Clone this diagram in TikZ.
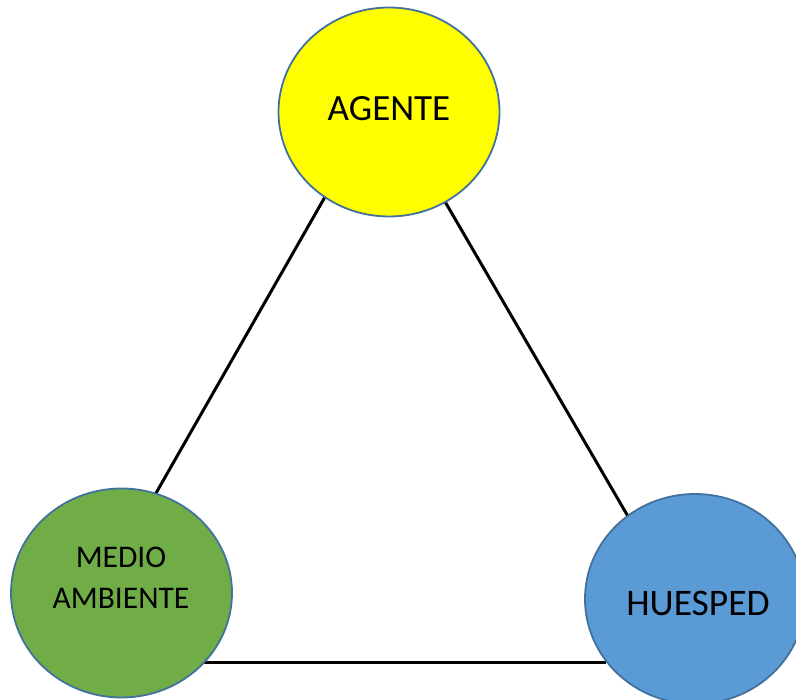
\documentclass[tikz,border=0pt]{standalone}
\usepackage{fontspec}
\setmainfont{Carlito}
\usetikzlibrary{shapes.geometric,backgrounds}
\definecolor{rimblue}{HTML}{41719C}
\definecolor{agyellow}{HTML}{FFFF00}
\definecolor{mdgreen}{HTML}{70AD47}
\definecolor{hublue}{HTML}{5B9BD5}
\tikzset{
  blob/.style={ellipse, draw=rimblue, line width=1.8pt, inner sep=0pt, outer sep=0pt,
    minimum width=221pt, minimum height=209pt},
  edge/.style={draw=black, line width=3pt},
  lbl/.style={inner sep=0pt, align=center, text=black}
}
\begin{document}
\begin{tikzpicture}[x=1pt,y=-1pt]
\useasboundingbox (0,0) rectangle (796,700);
\node[blob, fill=agyellow] (A) at (389,112) {};
\node[blob, fill=mdgreen] (M) at (121.5,593) {};
\node[blob, fill=hublue, minimum width=220pt, minimum height=210pt] (H) at (695,599) {};
\begin{scope}[on background layer]
\draw[edge] (A.233) -- (M.71);
\draw[edge] (A.302) -- (H.129);
\draw[edge] (M.320) -- (M.320 -| H.215);
\end{scope}
\node[lbl, font=\fontsize{37}{44}\selectfont] (tA) at (389,109) {AGENTE};
\node[lbl, font=\fontsize{31.5}{41}\selectfont] (tM) at (121,578) {MEDIO\\AMBIENTE};
\node[lbl, font=\fontsize{37.5}{44}\selectfont] (tH) at (698,603) {HUESPED};
\end{tikzpicture}
\end{document}
